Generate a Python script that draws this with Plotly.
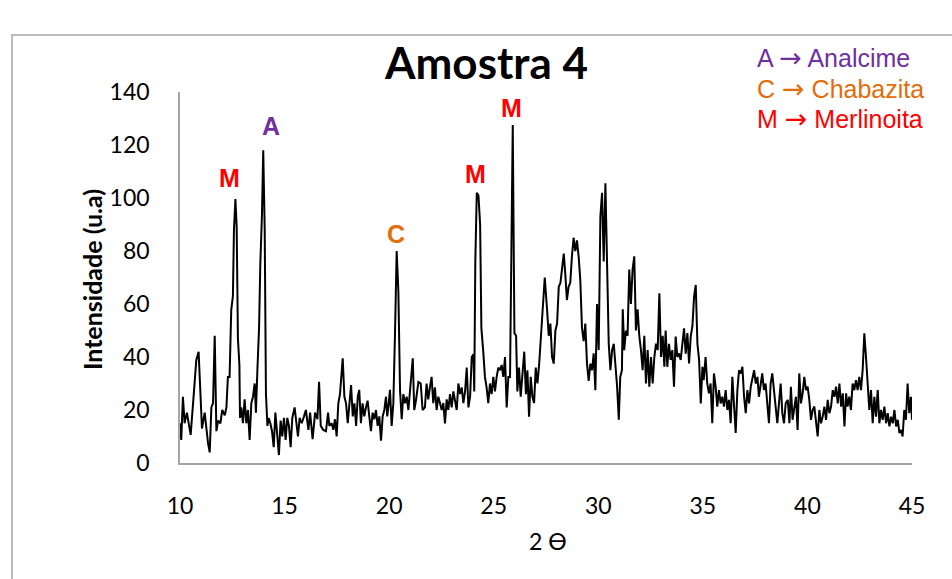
import plotly.graph_objects as go

two_theta = [
    10.0, 10.06, 10.14, 10.22, 10.33, 10.43, 10.51, 10.62, 10.70, 10.78, 10.89, 10.97, 11.05, 11.18, 11.26,
    11.34, 11.42, 11.50, 11.58, 11.66, 11.74, 11.82, 11.93, 12.02, 12.14, 12.22, 12.29, 12.37, 12.45, 12.53,
    12.58, 12.65, 12.71, 12.77, 12.84, 12.87, 12.93, 13.01, 13.09, 13.17, 13.25, 13.33, 13.41, 13.49, 13.57,
    13.63, 13.70, 13.78, 13.84, 13.92, 13.98, 14.05, 14.11, 14.18, 14.24, 14.32, 14.40, 14.48, 14.56, 14.64,
    14.73, 14.81, 14.89, 14.97, 15.05, 15.13, 15.21, 15.29, 15.37, 15.48, 15.56, 15.64, 15.72,
    15.82, 15.93, 16.02, 16.14, 16.22, 16.34, 16.46, 16.57, 16.65, 16.73, 16.85, 16.98, 17.08, 17.14, 17.25,
    17.33, 17.41, 17.49, 17.57, 17.65, 17.78, 17.86, 17.94, 18.02, 18.10, 18.18, 18.26, 18.34, 18.42, 18.50,
    18.57, 18.65, 18.73, 18.81, 18.89, 18.97, 19.05, 19.13, 19.21, 19.29, 19.37, 19.45, 19.53, 19.61, 19.69,
    19.77, 19.85, 19.91, 19.98, 20.04, 20.12, 20.20, 20.28, 20.36, 20.44, 20.52, 20.60, 20.68, 20.76, 20.84,
    20.92, 21.00, 21.13, 21.20, 21.28, 21.40, 21.51, 21.60,
    21.71, 21.79, 21.87, 21.95, 22.03, 22.11, 22.19, 22.27, 22.35, 22.43, 22.51, 22.59, 22.67, 22.75, 22.83,
    22.91, 22.99, 23.07, 23.15, 23.23, 23.31, 23.39, 23.47, 23.55, 23.63, 23.71, 23.79, 23.87, 23.95, 24.03,
    24.07, 24.12, 24.19, 24.27, 24.35, 24.41, 24.50, 24.58, 24.66, 24.74, 24.82, 24.90, 24.98, 25.06, 25.14,
    25.22, 25.30, 25.38, 25.46, 25.54, 25.62, 25.70, 25.78, 25.84, 25.91, 25.99, 26.07, 26.13, 26.21, 26.29,
    26.39, 26.46, 26.54, 26.61, 26.69, 26.77, 26.85, 26.93, 27.01, 27.09, 27.17, 27.25,
    27.44, 27.55, 27.63, 27.71, 27.79, 27.87, 27.95, 28.03, 28.11, 28.19, 28.27, 28.35, 28.42, 28.50, 28.58,
    28.66, 28.74, 28.82, 28.90, 28.98, 29.06, 29.14, 29.22, 29.30, 29.38, 29.46, 29.54, 29.62, 29.70, 29.78,
    29.86, 29.94, 30.02, 30.10, 30.18, 30.26, 30.34, 30.42, 30.50, 30.58, 30.66, 30.74, 30.82, 30.90, 30.98,
    31.05, 31.13, 31.17, 31.24, 31.32, 31.40, 31.48, 31.56, 31.64, 31.72, 31.80, 31.88, 31.96, 32.04, 32.12,
    32.20, 32.28, 32.36, 32.44, 32.52, 32.60, 32.68, 32.76, 32.84, 32.92, 33.00, 33.08, 33.16,
    33.22, 33.30, 33.38, 33.46, 33.54, 33.62, 33.70, 33.78, 33.86, 33.94, 34.02, 34.10, 34.18, 34.26, 34.34,
    34.42, 34.50, 34.58, 34.66, 34.74, 34.82, 34.90, 34.98, 35.04, 35.13, 35.21, 35.29, 35.37, 35.45, 35.53,
    35.61, 35.69, 35.77, 35.85, 35.93, 36.01, 36.09, 36.17, 36.25, 36.33, 36.41, 36.49, 36.57, 36.65, 36.73,
    36.81, 36.89, 36.97, 37.05, 37.13, 37.21, 37.29, 37.37, 37.45, 37.53, 37.61, 37.68, 37.76, 37.84, 37.92,
    38.00, 38.08, 38.16, 38.24, 38.32, 38.40, 38.48, 38.56, 38.64, 38.72, 38.80, 38.88, 38.96,
    39.06, 39.14, 39.21, 39.29, 39.37, 39.45, 39.53, 39.61, 39.69, 39.77, 39.85, 39.93, 40.01, 40.09, 40.17,
    40.25, 40.33, 40.41, 40.49, 40.57, 40.65, 40.73, 40.81, 40.89, 40.97, 41.05, 41.13, 41.21, 41.29, 41.37,
    41.45, 41.53, 41.61, 41.69, 41.77, 41.85, 41.92, 42.00, 42.08, 42.16, 42.24, 42.32, 42.40, 42.48, 42.56,
    42.64, 42.72, 42.80, 42.88, 42.96, 43.04, 43.12, 43.20, 43.28, 43.36, 43.44, 43.52, 43.60, 43.68, 43.76,
    43.84, 43.92, 44.00, 44.08, 44.16, 44.24, 44.32, 44.40, 44.48, 44.55, 44.63, 44.71, 44.79, 44.87, 44.95,
    45.0,
]

intensity = [
    15, 8.7, 25, 15, 19, 15, 10.6, 22, 29.4, 38.9, 42, 25, 13, 19, 12,
    7.5, 4, 21, 22.6, 48, 12, 16, 15, 20, 18, 21, 32.5, 32.5, 57.7, 63,
    88, 99.6, 89, 47, 37, 17, 21, 15, 24, 15, 20, 8.7, 22.6, 25, 30,
    19, 35, 51, 75, 94, 118, 88, 26, 14, 17, 15, 12, 6, 19, 12,
    3, 16, 10, 17, 8.7, 17, 14, 6, 17, 21, 16, 10, 17,
    15, 17.6, 20, 12.5, 19, 9, 19, 16.5, 30.6, 14, 12.5, 12, 19, 14, 15,
    12.5, 16.5, 10, 22.5, 26, 39.5, 25, 22.5, 15, 22.5, 29.4, 17.6, 22.5, 14, 25,
    27.6, 15, 22.5, 17.6, 21, 23.5, 17.6, 12, 19, 16.5, 20, 14, 17.6, 8.4, 17.6,
    20, 25, 17.6, 22.5, 27.6, 14, 22.5, 49, 80, 65, 27.6, 16.5, 26, 22.5, 25,
    20, 27.6, 39.5, 20, 23.5, 30.6, 30, 20,
    21, 30, 24, 28.5, 32.5, 22.6, 28.5, 20, 25, 22.6, 20, 22.6, 14.9, 24, 20,
    26, 21, 27, 22.6, 20, 30, 26, 28.5, 22.6, 27, 36, 21, 25, 40, 41,
    27, 76, 102, 101, 90, 51, 42, 32.5, 28.5, 22.6, 30, 26, 32.5, 27, 32.5,
    36, 35, 37, 32.5, 40, 21, 32.5, 32.5, 83, 127.5, 49, 48, 27, 36, 25,
    37, 42, 26, 35, 17.5, 32.5, 25, 22.6, 36, 30, 37, 48,
    70, 58, 48, 52.6, 40, 37.5, 50, 52.6, 66.5, 68, 73, 79, 71.6, 61.5, 66.5,
    68, 78, 85, 80, 84, 78, 69, 51, 46, 52.6, 37.5, 31, 37.5, 35, 41.4,
    27.5, 60, 42.6, 93, 102, 76, 105.6, 78, 45, 35, 42.6, 45, 37.5, 28.8, 16.3,
    32.5, 35, 58, 42.6, 50, 48, 73, 60, 73, 78, 50, 58, 48, 42.6, 35,
    48, 30, 42.6, 28.8, 40, 30, 40, 45, 42.6, 64, 40, 48, 36.3,
    50, 36.3, 45, 38.9, 42.6, 28.8, 47.7, 40, 41.3, 38.9, 43.9, 50.8, 41.3, 49, 37.6,
    47.7, 51.6, 62.8, 67.2, 45, 38.9, 22.5, 36.3, 31.3, 40, 30, 26.3, 30, 15, 33.8,
    28.8, 21.3, 27.5, 22.5, 25, 21.3, 27.5, 20, 23.8, 15, 32.5, 22.5, 11.3, 27.5, 35,
    33.8, 36.3, 25, 18.8, 27.5, 22.5, 28.8, 32.5, 35, 30, 32.5, 25, 30, 33.8, 27.5,
    30, 22.5, 15, 30, 33.8, 27.5, 21.3, 15, 22.5, 30, 18.8, 15, 22.5,
    23.8, 15, 28.8, 16.3, 20, 25, 12.5, 33.8, 22.5, 26.3, 32.5, 27.5, 28.8, 23.8, 16.3,
    20, 21.3, 16.3, 10, 20, 15, 17.5, 21.3, 16.3, 23.8, 18.8, 21.3, 27.5, 25, 28.8,
    22.5, 30, 21.3, 26.3, 13.8, 26.3, 21.3, 25, 20, 30, 27.5, 31.3, 27.5, 32.5, 27.5,
    35, 48.9, 40, 30, 20, 27.5, 15, 25, 17.5, 27.5, 15, 20, 16.3, 21.3, 15,
    18.8, 13.8, 17.5, 15, 20, 13.8, 16.3, 11.3, 12.5, 10, 20, 16.3, 30, 18.8, 25,
    16.3,
]

peak_labels = ["M", "A", "C", "M", "M"]
peak_x = [12.39, 14.35, 20.33, 24.15, 25.83]
peak_y = [107.5, 127, 86.4, 109, 134]
peak_colors = ["#FF0000", "#7030A0", "#E46C0A", "#FF0000", "#FF0000"]

legend_keys = ["A", "C", "M"]
legend_names = ["Analcime", "Chabazita", "Merlinoita"]
legend_colors = ["#7030A0", "#E46C0A", "#FF0000"]

x_ticks = [10, 15, 20, 25, 30, 35, 40, 45]
y_ticks = [0, 20, 40, 60, 80, 100, 120, 140]

L, T, W, H = 180, 92, 732, 371


def px(xp):
    return (xp - L) / W


def py(yp):
    return (T + H - yp) / H


fig = go.Figure()
fig.add_trace(go.Scatter(x=two_theta, y=intensity, mode="lines",
                         line=dict(color="#000000", width=2), showlegend=False))

for lab, xv, yv, col in zip(peak_labels, peak_x, peak_y, peak_colors):
    fig.add_annotation(x=xv, y=yv, text="<b>%s</b>" % lab, showarrow=False,
                       font=dict(family="Liberation Sans, Arial", size=25, color=col),
                       xanchor="center", yanchor="middle")

arrow = '<span style="font-family:DejaVu Sans;font-size:27px">\u2192</span>'
for i, (k, n, col) in enumerate(zip(legend_keys, legend_names, legend_colors)):
    fig.add_annotation(xref="paper", yref="paper", x=px(755), y=py(58 + 30 * i),
                       text="%s %s %s" % (k, arrow, n), showarrow=False,
                       font=dict(family="Liberation Sans, Arial", size=25, color=col),
                       xanchor="left", yanchor="middle")

fig.add_annotation(xref="paper", yref="paper", x=px(486), y=py(62),
                   text="<b>Amostra 4</b>", showarrow=False,
                   font=dict(family="Lato, Liberation Sans", size=44, color="#000000"),
                   xanchor="center", yanchor="middle")

fig.add_annotation(xref="paper", yref="paper", x=px(92), y=py(280),
                   text="<b>Intensidade (u.a)</b>", showarrow=False, textangle=-90,
                   font=dict(family="Lato, Liberation Sans", size=25, color="#000000"),
                   xanchor="center", yanchor="middle")

fig.add_annotation(xref="paper", yref="paper", x=px(548), y=py(541),
                   text="2 \u04e8", showarrow=False,
                   font=dict(family="Lato, Liberation Sans", size=23, color="#000000"),
                   xanchor="center", yanchor="middle")

fig.add_shape(type="rect", xref="paper", yref="paper",
              x0=px(12), x1=px(960), y0=py(600), y1=py(35),
              line=dict(color="#A6A6A6", width=1.5), fillcolor="rgba(0,0,0,0)", layer="below")

fig.update_layout(
    width=952, height=579,
    margin=dict(l=L, r=952 - L - W, t=T, b=579 - T - H),
    paper_bgcolor="white", plot_bgcolor="white",
    font=dict(family="Lato, Liberation Sans", size=23, color="#000000"),
    xaxis=dict(range=[10, 45], tickvals=x_ticks, showgrid=False, zeroline=False,
               showline=True, linecolor="#A6A6A6", linewidth=1.5, ticks="",
               tickfont=dict(size=23), ticklabelstandoff=22),
    yaxis=dict(range=[0, 140], tickvals=y_ticks, showgrid=False, zeroline=False,
               showline=True, linecolor="#A6A6A6", linewidth=1.5, ticks="",
               tickfont=dict(size=23), ticklabelstandoff=24),
)

fig.write_html("out.html")
